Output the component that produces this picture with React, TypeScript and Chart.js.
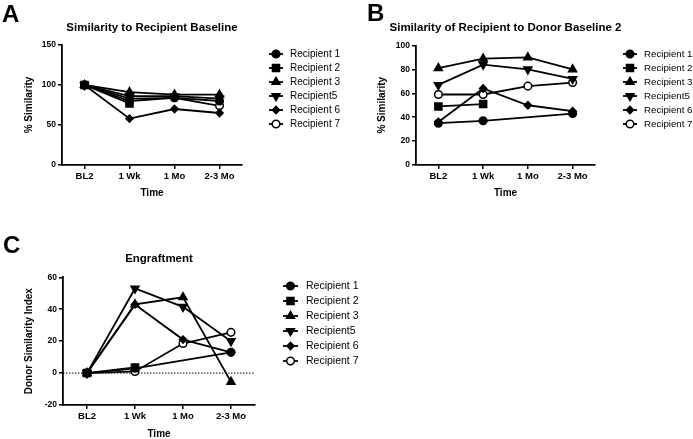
import React, { useEffect, useRef } from 'react';
import { Chart, registerables } from 'chart.js';
import { drawPoint } from 'chart.js/helpers';

Chart.register(...registerables);

// ---------- data ----------
const timepoints = ['BL2', '1 Wk', '1 Mo', '2-3 Mo'];
const seriesNames = ['Recipient 1', 'Recipient 2', 'Recipient 3', 'Recipient5', 'Recipient 6', 'Recipient 7'];

// Panel A: Similarity to Recipient Baseline (% Similarity)
const aRecipient1 = [100, 83, 84, 80];
const aRecipient2 = [100, 77, null, null];
const aRecipient3 = [100, 91, 88, 88];
const aRecipient5 = [100, 86, 86, 83];
const aRecipient6 = [100, 58, 70, 65];
const aRecipient7 = [100, 80, 84, 74];
const aYTicks = [0, 50, 100, 150];

// Panel B: Similarity of Recipient to Donor Baseline 2 (% Similarity)
const bRecipient1 = [35, 37, null, 43];
const bRecipient2 = [49, 51, null, null];
const bRecipient3 = [81, 89, 90, 80];
const bRecipient5 = [67, 84, 80, 72];
const bRecipient6 = [36, 64, 50, 45];
const bRecipient7 = [59, 59, 66, 69];
const bYTicks = [0, 20, 40, 60, 80, 100];

// Panel C: Engraftment (Donor Similarity Index)
const cRecipient1 = [0, 3, null, 13];
const cRecipient2 = [0, 3.5, null, null];
const cRecipient3 = [0, 43, 47.5, -5.5];
const cRecipient5 = [0, 53, 41.5, 20];
const cRecipient6 = [0, 43, 21, 13];
const cRecipient7 = [0, 1, 18.5, 25.5];
const cYTicks = [-20, 0, 20, 40, 60];

// ---------- styles ----------
const FONT = '"Liberation Sans", Arial, Helvetica, sans-serif';
const markerStyles = [
  { pointStyle: 'circle', pointRadius: 3.8, pointRotation: 0, fill: '#000' },
  { pointStyle: 'rect', pointRadius: 5, pointRotation: 0, fill: '#000' },
  { pointStyle: 'triangle', pointRadius: 4.6, pointRotation: 0, fill: '#000' },
  { pointStyle: 'triangle', pointRadius: 4.6, pointRotation: 180, fill: '#000' },
  { pointStyle: 'rectRot', pointRadius: 3.6, pointRotation: 0, fill: '#000' },
  { pointStyle: 'circle', pointRadius: 3.8, pointRotation: 0, fill: '#fff' },
];

const decorPlugin = {
  id: 'decor',
  beforeDatasetsDraw(chart: any, _args: any, opts: any) {
    if (!opts.zeroLine) return;
    const ctx = chart.ctx;
    const ca = chart.chartArea;
    const y = chart.scales.y.getPixelForValue(0);
    ctx.save();
    ctx.setLineDash([1.5, 1.5]);
    ctx.lineWidth = 1;
    ctx.strokeStyle = '#000';
    ctx.beginPath();
    ctx.moveTo(ca.left, y);
    ctx.lineTo(ca.right, y);
    ctx.stroke();
    ctx.restore();
  },
  afterDraw(chart: any, _args: any, opts: any) {
    const ctx = chart.ctx;
    const ca = chart.chartArea;
    ctx.save();
    ctx.fillStyle = '#000';
    // title
    ctx.font = `bold 11.5px ${FONT}`;
    ctx.textAlign = 'center';
    ctx.textBaseline = 'middle';
    ctx.fillText(opts.title, (ca.left + ca.right) / 2, opts.titleY);
    // panel letter
    ctx.font = `bold 24px ${FONT}`;
    ctx.textAlign = 'left';
    ctx.textBaseline = 'alphabetic';
    ctx.fillText(opts.letter, opts.letterX, opts.letterY);
    // legend
    chart.data.datasets.forEach((ds: any, i: number) => {
      const y = opts.legendY0 + i * opts.legendStep;
      const x0 = opts.legendX;
      const x1 = x0 + opts.legendLine;
      ctx.strokeStyle = '#000';
      ctx.lineWidth = 1.8;
      ctx.beginPath();
      ctx.moveTo(x0, y);
      ctx.lineTo(x1, y);
      ctx.stroke();
      ctx.fillStyle = ds.pointBackgroundColor;
      ctx.strokeStyle = '#000';
      ctx.lineWidth = 1.5;
      drawPoint(ctx, {
        pointStyle: ds.pointStyle,
        rotation: ds.pointRotation,
        radius: ds.pointRadius,
        borderWidth: 1.5,
      } as any, (x0 + x1) / 2, y);
      ctx.fillStyle = '#000';
      ctx.font = `${opts.legendFont}px ${FONT}`;
      ctx.textAlign = 'left';
      ctx.textBaseline = 'middle';
      ctx.fillText(ds.label, x1 + opts.legendGap, y);
    });
    ctx.restore();
  },
};

type PanelSpec = {
  series: (number | null)[][];
  yTicks: number[];
  yTitle: string;
  title: string;
  width: number;
  height: number;
  padding: { left: number; top: number; right: number; bottom: number };
  yAxisW: number;
  xAxisH: number;
  yTitlePad: number;
  xTitlePad: number;
  deco: any;
};

function makeConfig(p: PanelSpec): any {
  const datasets = p.series.map((data, i) => ({
    label: seriesNames[i],
    data,
    borderColor: '#000',
    borderWidth: 1.8,
    pointStyle: markerStyles[i].pointStyle,
    pointRadius: markerStyles[i].pointRadius,
    pointRotation: markerStyles[i].pointRotation,
    pointBackgroundColor: markerStyles[i].fill,
    pointBorderColor: '#000',
    pointBorderWidth: 1.5,
    spanGaps: true,
    tension: 0,
    fill: false,
  }));
  const axisGrid = {
    display: true,
    drawOnChartArea: false,
    drawTicks: true,
    tickLength: 4,
    color: '#000',
    lineWidth: 1.5,
  };
  return {
    type: 'line',
    data: { labels: timepoints, datasets },
    options: {
      responsive: false,
      animation: false,
      devicePixelRatio: 1,
      layout: { padding: p.padding },
      plugins: {
        legend: { display: false },
        title: { display: false },
        tooltip: { enabled: false },
        decor: { ...p.deco, title: p.title },
      },
      scales: {
        x: {
          type: 'category',
          offset: true,
          grid: { ...axisGrid, offset: false },
          border: { display: true, color: '#000', width: 1.8 },
          ticks: {
            color: '#000',
            font: { family: FONT, size: 9.5, weight: 'bold' },
            padding: 2,
            maxRotation: 0,
            autoSkip: false,
          },
          title: {
            display: true,
            text: 'Time',
            color: '#000',
            font: { family: FONT, size: 10, weight: 'bold' },
            padding: { top: 0, bottom: p.xTitlePad },
          },
          afterFit: (s: any) => {
            s.height = p.xAxisH;
          },
        },
        y: {
          min: p.yTicks[0],
          max: p.yTicks[p.yTicks.length - 1],
          grid: axisGrid,
          border: { display: true, color: '#000', width: 1.8 },
          afterBuildTicks: (s: any) => {
            s.ticks = p.yTicks.map((v) => ({ value: v }));
          },
          ticks: {
            color: '#000',
            font: { family: FONT, size: 8.5, weight: 'bold' },
            padding: 2,
          },
          title: {
            display: true,
            text: p.yTitle,
            color: '#000',
            font: { family: FONT, size: 10, weight: 'bold' },
            padding: { top: p.yTitlePad, bottom: 0 },
          },
          afterFit: (s: any) => {
            s.width = p.yAxisW;
          },
        },
      },
    },
    plugins: [decorPlugin],
  };
}

const panelA: PanelSpec = {
  series: [aRecipient1, aRecipient2, aRecipient3, aRecipient5, aRecipient6, aRecipient7],
  yTicks: aYTicks,
  yTitle: '% Similarity',
  title: 'Similarity to Recipient Baseline',
  width: 355,
  height: 215,
  padding: { left: 0, top: 45, right: 113, bottom: 0 },
  yAxisW: 62,
  xAxisH: 50,
  yTitlePad: 23,
  xTitlePad: 16,
  deco: { titleY: 28, letter: 'A', letterX: 2, letterY: 22, legendX: 269, legendLine: 14, legendGap: 7, legendY0: 54, legendStep: 14, legendFont: 10, zeroLine: false },
};

const panelB: PanelSpec = {
  series: [bRecipient1, bRecipient2, bRecipient3, bRecipient5, bRecipient6, bRecipient7],
  yTicks: bYTicks,
  yTitle: '% Similarity',
  title: 'Similarity of Recipient to Donor Baseline 2',
  width: 338,
  height: 215,
  padding: { left: 0, top: 45.5, right: 98, bottom: 0 },
  yAxisW: 61,
  xAxisH: 50,
  yTitlePad: 21,
  xTitlePad: 16,
  deco: { titleY: 28, letter: 'B', letterX: 12, letterY: 21, legendX: 268, legendLine: 14, legendGap: 7, legendY0: 54, legendStep: 14, legendFont: 9.7, zeroLine: false },
};

const panelC: PanelSpec = {
  series: [cRecipient1, cRecipient2, cRecipient3, cRecipient5, cRecipient6, cRecipient7],
  yTicks: cYTicks,
  yTitle: 'Donor Similarity Index',
  title: 'Engraftment',
  width: 390,
  height: 228,
  padding: { left: 0, top: 62.3, right: 135, bottom: 0 },
  yAxisW: 63,
  xAxisH: 38,
  yTitlePad: 23,
  xTitlePad: 3,
  deco: { titleY: 44, letter: 'C', letterX: 3, letterY: 38, legendX: 283, legendLine: 15, legendGap: 8, legendY0: 71, legendStep: 15, legendFont: 10.5, zeroLine: true },
};

function Panel({ spec, left, top }: { spec: PanelSpec; left: number; top: number }) {
  const ref = useRef<HTMLCanvasElement | null>(null);
  useEffect(() => {
    if (!ref.current) return;
    const chart = new Chart(ref.current, makeConfig(spec));
    return () => chart.destroy();
  }, [spec]);
  return (
    <canvas
      ref={ref}
      width={spec.width}
      height={spec.height}
      style={{ position: 'absolute', left, top, width: spec.width, height: spec.height }}
    />
  );
}

export default function App() {
  return (
    <div style={{ position: 'absolute', left: 0, top: 0, width: 693, height: 439, background: '#fff', overflow: 'hidden' }}>
      <Panel spec={panelA} left={0} top={0} />
      <Panel spec={panelB} left={355} top={0} />
      <Panel spec={panelC} left={0} top={215} />
    </div>
  );
}
